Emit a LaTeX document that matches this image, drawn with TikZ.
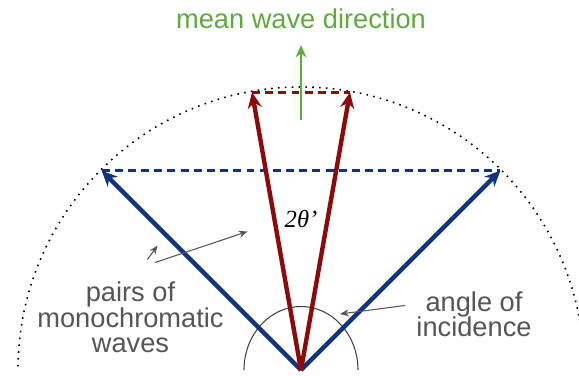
\documentclass[tikz,border=0pt]{standalone}
\usepackage{fontspec}
\setmainfont{Liberation Sans}
\newfontfamily\thetafont{Liberation Serif}
\usetikzlibrary{arrows.meta,positioning,calc}
\definecolor{wavblue}{RGB}{18,50,130}
\definecolor{wavred}{RGB}{140,10,10}
\definecolor{wavgreen}{RGB}{95,170,60}
\definecolor{labgray}{RGB}{85,85,85}

\begin{document}
\begin{tikzpicture}[
    wave/.style={line width=2.5pt,-{Stealth[length=9pt,width=8pt]}},
    front/.style={line width=1.6pt,dash pattern=on 4.5pt off 3pt},
    pointer/.style={labgray,line width=0.6pt,-{Stealth[length=5pt,width=4pt]}},
    lab/.style={text=labgray,font=\fontsize{15.5}{14.5}\selectfont,align=center}]
\useasboundingbox (-6.02,-0.1) rectangle (5.56,7.4);
\coordinate (O) at (0,0);
% dotted circle and angle arc
\draw[line width=0.9pt,dash pattern=on 0.9pt off 3pt] (5.66,0) arc[start angle=0,end angle=180,radius=5.66];
\draw[black!75,line width=0.6pt] (1.14,0) arc[start angle=0,end angle=180,x radius=1.14,y radius=1.27];
% wave pairs
\coordinate (bl) at (135:5.64);
\coordinate (br) at (45:5.64);
\coordinate (rl) at (100:5.64);
\coordinate (rr) at (80:5.64);
\draw[wavblue,front] (bl)--(br);
\draw[wavred,front] (rl)--(rr);
\draw[wavblue,wave] (O)--(bl);
\draw[wavblue,wave] (O)--(br);
\draw[wavred,wave] (O)--(rl);
\draw[wavred,wave] (O)--(rr);
% mean direction
\coordinate (m0) at (0,5.0);
\coordinate (m1) at (0,6.5);
\draw[wavgreen,line width=1.4pt,-{Stealth[length=7pt,width=6pt]}] (m0)--(m1);
\node[text=wavgreen,font=\fontsize{15.5}{15.5}\selectfont] (title) at (0,7.02){mean wave direction};
\node[font=\fontsize{14}{14}\selectfont\thetafont\itshape] (tt) at (0,3.02){2θ’};
% labels
\node[lab] (pairs) at (-3.41,1.05){pairs of\\monochromatic\\waves};
\node[lab] (angle) at (3.46,1.12){angle of\\incidence};
\coordinate (p1) at (-3.07,2.21);
\coordinate (p2) at (-2.87,2.49);
\coordinate (p3) at (-2.92,2.15);
\coordinate (p4) at (-1.07,2.77);
\coordinate (a1) at (2.08,1.29);
\coordinate (a2) at (0.78,1.12);
\draw[pointer] (p1)--(p2);
\draw[pointer] (p3)--(p4);
\draw[pointer] (a1)--(a2);
\end{tikzpicture}
\end{document}
